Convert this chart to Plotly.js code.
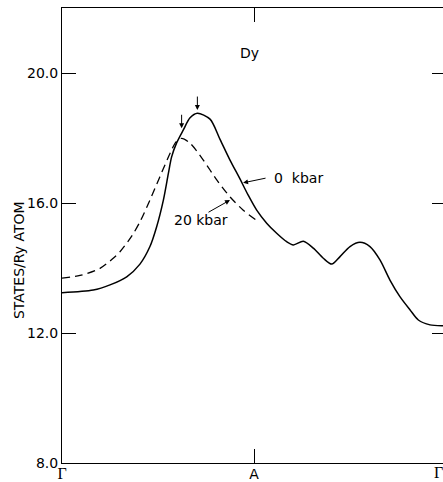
<!DOCTYPE html>
<html>
<head>
<meta charset="utf-8">
<script src="https://cdn.plot.ly/plotly-3.0.1.min.js"></script>
<style>
html, body { margin: 0; padding: 0; overflow: hidden; background: #fff; }
#chart { width: 446px; height: 482px; }
</style>
</head>
<body>
<div id="chart"></div>
<script>
// k-path position (Γ = 0, A = 1, Γ = 2)
const kSolid = [0, 0.163, 0.250, 0.337, 0.406, 0.458, 0.493, 0.528, 0.554, 0.571, 0.597, 0.632, 0.667, 0.705, 0.771, 0.823, 0.875, 0.927, 0.969, 1.014, 1.066, 1.118, 1.170, 1.205, 1.257, 1.309, 1.361, 1.405, 1.448, 1.500, 1.552, 1.604, 1.656, 1.708, 1.760, 1.813, 1.856, 1.917, 1.984, 2.0];
// 0 kbar density of states (states / Ry atom)
const dos0kbar = [13.24, 13.32, 13.48, 13.73, 14.12, 14.66, 15.27, 16.09, 16.91, 17.42, 17.85, 18.25, 18.62, 18.76, 18.58, 17.96, 17.32, 16.74, 16.25, 15.78, 15.38, 15.07, 14.81, 14.71, 14.82, 14.61, 14.30, 14.12, 14.35, 14.66, 14.79, 14.66, 14.25, 13.63, 13.12, 12.71, 12.40, 12.25, 12.22, 12.22];

const kDashed = [0, 0.094, 0.198, 0.267, 0.302, 0.363, 0.406, 0.458, 0.510, 0.563, 0.594, 0.623, 0.667, 0.736, 0.806, 0.875, 0.944, 1.010];
// 20 kbar density of states
const dos20kbar = [13.69, 13.77, 13.99, 14.30, 14.50, 14.98, 15.42, 16.09, 16.81, 17.53, 17.88, 17.99, 17.84, 17.32, 16.71, 16.19, 15.78, 15.48];

const xTickVals = [0, 1, 2];
const xTickText = ['Γ', '<span style="font-family:\'DejaVu Sans\';font-size:14px">A</span>', 'Γ'];
const yTickVals = [8, 12, 16, 20];
const yTickText = ['8.0', '12.0', '16.0', '20.0'];

const traces = [
  { x: kSolid, y: dos0kbar, type: 'scatter', mode: 'lines', name: '0 kbar',
    line: { color: '#000', width: 1.5, shape: 'spline', smoothing: 0.8 } },
  { x: kDashed, y: dos20kbar, type: 'scatter', mode: 'lines', name: '20 kbar',
    line: { color: '#000', width: 1.3, shape: 'spline', smoothing: 0.8, dash: '8px,5px' } }
];

const font = { family: 'DejaVu Sans, sans-serif', size: 14, color: '#000' };
const serif = { family: 'Liberation Serif, serif', size: 16, color: '#000' };
const arrow = { text: '', showarrow: true, arrowhead: 2, arrowsize: 1, arrowwidth: 1, arrowcolor: '#000', xref: 'x', yref: 'y', axref: 'pixel', ayref: 'pixel' };

const layout = {
  width: 446, height: 482,
  margin: { l: 62, r: 0, t: 8, b: 19 },
  paper_bgcolor: '#fff', plot_bgcolor: '#fff',
  showlegend: false,
  font: font,
  xaxis: {
    range: [0, 2], tickvals: xTickVals.slice(0, 2), ticktext: xTickText.slice(0, 2),
    ticks: 'inside', ticklen: 14, tickwidth: 1, tickcolor: '#000',
    showline: true, linecolor: '#000', linewidth: 1, mirror: 'ticks',
    showgrid: false, zeroline: false, fixedrange: true,
    ticklabelstandoff: -4,
    tickfont: serif
  },
  yaxis: {
    range: [8, 22], tickvals: yTickVals, ticktext: yTickText,
    ticks: 'inside', ticklen: 14, tickwidth: 1, tickcolor: '#000',
    showline: true, linecolor: '#000', linewidth: 1, mirror: 'ticks',
    showgrid: false, zeroline: false, fixedrange: true,
    tickfont: { family: 'DejaVu Sans, sans-serif', size: 14, color: '#000' }
  },
  annotations: [
    { text: xTickText[2], x: xTickVals[2], y: 8, xref: 'x', yref: 'y', xanchor: 'center', yanchor: 'top', xshift: -8, yshift: 1, showarrow: false, font: serif },
    { text: 'Dy', x: 0.977, y: 20.62, xref: 'x', yref: 'y', showarrow: false, font: font },
    { text: '0&nbsp;&nbsp;kbar', x: 1.094, y: 16.77, xref: 'x', yref: 'y', xanchor: 'left', showarrow: false, font: font },
    { text: '20 kbar', x: 0.573, y: 15.48, xref: 'x', yref: 'y', xanchor: 'left', showarrow: false, font: font },
    Object.assign({}, arrow, { x: 0.943, y: 16.62, ax: 24, ay: -5 }),
    Object.assign({}, arrow, { x: 0.875, y: 16.09, ax: -23, ay: 13 }),
    Object.assign({}, arrow, { x: 0.705, y: 18.86, ax: 0, ay: -15 }),
    Object.assign({}, arrow, { x: 0.623, y: 18.30, ax: 0, ay: -15 }),
    { text: 'STATES/Ry ATOM', x: -0.112, y: 0.446, xref: 'paper', yref: 'paper', xanchor: 'center', yanchor: 'middle', textangle: -90, showarrow: false, font: { family: 'DejaVu Sans, sans-serif', size: 14, color: '#000' } }
  ]
};

Plotly.newPlot('chart', traces, layout, { staticPlot: true, displayModeBar: false });
</script>
</body>
</html>
